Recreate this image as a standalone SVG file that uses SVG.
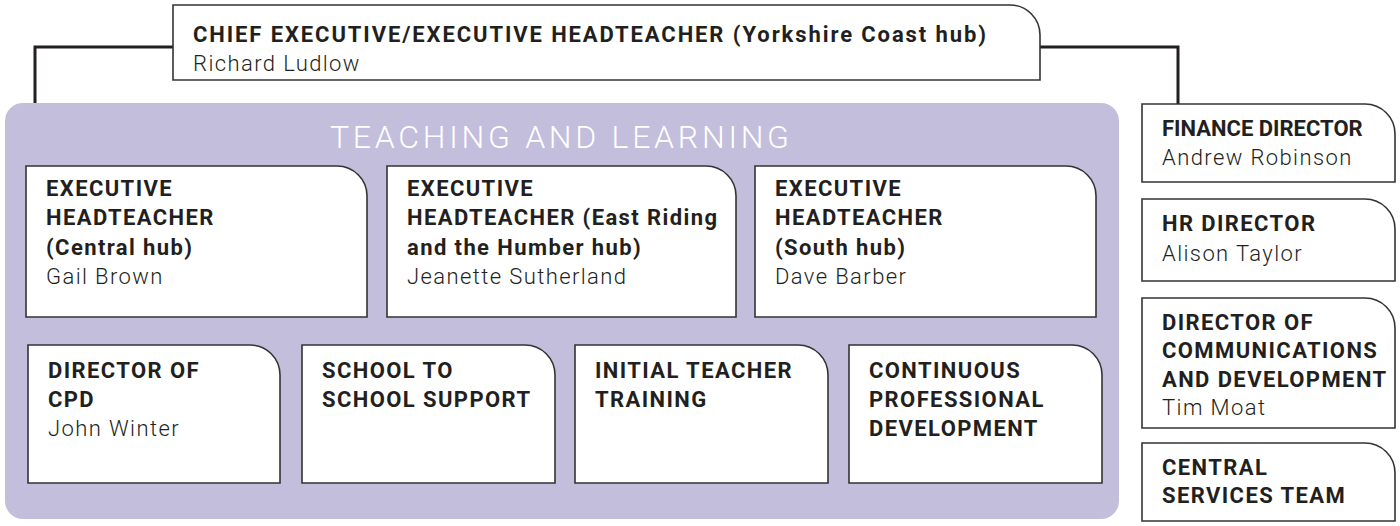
<svg xmlns="http://www.w3.org/2000/svg" width="1400" height="526" viewBox="0 0 1400 526">
<style>
.box{fill:#fff;stroke:#333;stroke-width:1.6}
.t{font-family:Roboto,"Liberation Sans",sans-serif;font-size:22px;font-weight:bold;fill:#231f20;letter-spacing:1.4px}
.n{font-family:Roboto,"Liberation Sans",sans-serif;font-size:22px;font-weight:300;fill:#231f20;letter-spacing:1.4px}
.conn{fill:none;stroke:#231f20;stroke-width:3}
.title{font-family:Roboto,"Liberation Sans",sans-serif;font-size:32px;font-weight:300;fill:#fff;letter-spacing:3px}
</style>
<rect x="0" y="0" width="1400" height="526" fill="#fff"/>
<g id="connectors">
<path class="conn" d="M35 104 V47 H173"/>
<path class="conn" d="M1040 47 H1178 V104"/>
</g>
<g id="panel">
<rect x="5" y="103" width="1114" height="416" rx="18" fill="#c2bedc"/>
<text class="title" x="330" y="148" textLength="462" lengthAdjust="spacing">TEACHING AND LEARNING</text>
</g>
<g id="chief">
<path class="box" d="M173 5 H1010 A30 30 0 0 1 1040 35 V80 H173 Z"/>
<text class="t" x="193" y="42" style="letter-spacing:1.9px">CHIEF EXECUTIVE/EXECUTIVE HEADTEACHER (Yorkshire Coast hub)</text>
<text class="n" x="193" y="71">Richard Ludlow</text>
</g>
<g id="exec-central">
<path class="box" d="M26 166 H337 A30 30 0 0 1 367 196 V317 H26 Z"/>
<text class="t" x="46" y="196">EXECUTIVE</text>
<text class="t" x="46" y="225">HEADTEACHER</text>
<text class="t" x="46" y="255">(Central hub)</text>
<text class="n" x="46" y="284">Gail Brown</text>
</g>
<g id="exec-east">
<path class="box" d="M387 166 H706 A30 30 0 0 1 736 196 V317 H387 Z"/>
<text class="t" x="407" y="196">EXECUTIVE</text>
<text class="t" x="407" y="225">HEADTEACHER (East Riding</text>
<text class="t" x="407" y="255">and the Humber hub)</text>
<text class="n" x="407" y="284">Jeanette Sutherland</text>
</g>
<g id="exec-south">
<path class="box" d="M755 166 H1066 A30 30 0 0 1 1096 196 V317 H755 Z"/>
<text class="t" x="775" y="196">EXECUTIVE</text>
<text class="t" x="775" y="225">HEADTEACHER</text>
<text class="t" x="775" y="255">(South hub)</text>
<text class="n" x="775" y="284">Dave Barber</text>
</g>
<g id="director-cpd">
<path class="box" d="M28 345 H250 A30 30 0 0 1 280 375 V483 H28 Z"/>
<text class="t" x="48" y="378">DIRECTOR OF</text>
<text class="t" x="48" y="407">CPD</text>
<text class="n" x="48" y="436">John Winter</text>
</g>
<g id="school-support">
<path class="box" d="M302 345 H525 A30 30 0 0 1 555 375 V483 H302 Z"/>
<text class="t" x="322" y="378">SCHOOL TO</text>
<text class="t" x="322" y="407">SCHOOL SUPPORT</text>
</g>
<g id="itt">
<path class="box" d="M575 345 H798 A30 30 0 0 1 828 375 V483 H575 Z"/>
<text class="t" x="595" y="378">INITIAL TEACHER</text>
<text class="t" x="595" y="407">TRAINING</text>
</g>
<g id="cpd">
<path class="box" d="M849 345 H1072 A30 30 0 0 1 1102 375 V483 H849 Z"/>
<text class="t" x="869" y="378">CONTINUOUS</text>
<text class="t" x="869" y="407">PROFESSIONAL</text>
<text class="t" x="869" y="436">DEVELOPMENT</text>
</g>
<g id="finance">
<path class="box" d="M1142 104 H1365 A30 30 0 0 1 1395 134 V182 H1142 Z"/>
<text class="t" x="1162" y="136" style="letter-spacing:0px">FINANCE DIRECTOR</text>
<text class="n" x="1162" y="165">Andrew Robinson</text>
</g>
<g id="hr">
<path class="box" d="M1142 199 H1365 A30 30 0 0 1 1395 229 V281 H1142 Z"/>
<text class="t" x="1162" y="231">HR DIRECTOR</text>
<text class="n" x="1162" y="261">Alison Taylor</text>
</g>
<g id="comms">
<path class="box" d="M1142 298 H1365 A30 30 0 0 1 1395 328 V428 H1142 Z"/>
<text class="t" x="1162" y="330">DIRECTOR OF</text>
<text class="t" x="1162" y="358">COMMUNICATIONS</text>
<text class="t" x="1162" y="387">AND DEVELOPMENT</text>
<text class="n" x="1162" y="415">Tim Moat</text>
</g>
<g id="central-services">
<path class="box" d="M1142 443 H1365 A30 30 0 0 1 1395 473 V521 H1142 Z"/>
<text class="t" x="1162" y="475">CENTRAL</text>
<text class="t" x="1162" y="503">SERVICES TEAM</text>
</g>
</svg>
